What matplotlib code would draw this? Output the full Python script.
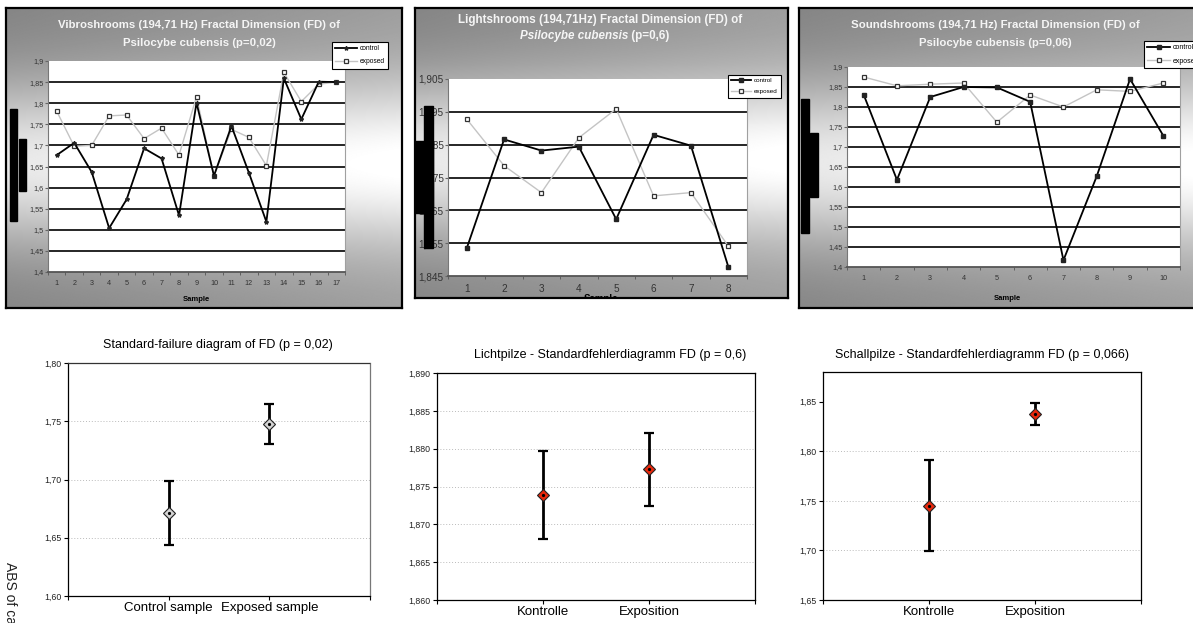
import numpy as np
import matplotlib
matplotlib.use("Agg")
import matplotlib.pyplot as plt
from matplotlib.patches import Rectangle
from matplotlib.ticker import FixedLocator, FuncFormatter

W, H = 1193, 623

# top row: fractal dimension per sample
vibro_samples = list(range(1, 18))
vibro_control = [1.677, 1.706, 1.637, 1.504, 1.572, 1.693, 1.669, 1.534, 1.801,
                 1.628, 1.746, 1.635, 1.519, 1.859, 1.762, 1.851, 1.850]
vibro_exposed = [1.781, 1.698, 1.700, 1.770, 1.772, 1.716, 1.741, 1.677, 1.815,
                 1.628, 1.738, 1.719, 1.652, 1.873, 1.804, 1.845, 1.850]

light_samples = list(range(1, 9))
light_control = [1.8534, 1.8866, 1.8832, 1.8844, 1.8623, 1.8880, 1.8847, 1.8478]
light_exposed = [1.8928, 1.8786, 1.8704, 1.8871, 1.8959, 1.8694, 1.8704, 1.8541]

sound_samples = list(range(1, 11))
sound_control = [1.831, 1.618, 1.825, 1.850, 1.849, 1.813, 1.417, 1.627, 1.870, 1.728]
sound_exposed = [1.875, 1.853, 1.857, 1.860, 1.762, 1.830, 1.800, 1.843, 1.839, 1.860]

# bottom row: mean and standard error range
vibro_labels = ["Control sample", "Exposed sample"]
vibro_mean = [1.671, 1.7475]
vibro_low = [1.644, 1.7306]
vibro_high = [1.699, 1.7647]

light_labels = ["Kontrolle", "Exposition"]
light_mean = [1.8739, 1.8773]
light_low = [1.8681, 1.8724]
light_high = [1.8797, 1.8821]

sound_labels = ["Kontrolle", "Exposition"]
sound_mean = [1.7453, 1.8378]
sound_low = [1.699, 1.8267]
sound_high = [1.7912, 1.8490]

NARROW = ["Liberation Sans Narrow", "Liberation Sans", "DejaVu Sans"]
ARIAL = ["Liberation Sans", "DejaVu Sans"]


def box(x0, y0, x1, y1):
    """pixel box (top-left origin) -> figure fraction rect"""
    return [x0 / W, 1 - y1 / H, (x1 - x0) / W, (y1 - y0) / H]


def fx(x):
    return x / W


def fy(y):
    return 1 - y / H


fig = plt.figure(figsize=(W / 100, H / 100), dpi=100)
fig.patch.set_facecolor("white")

# gray excel-style background
t = np.linspace(0, 1, 300)[:, None]
s = np.linspace(0, 1, 300)[None, :]
shade = 0.54 + 0.40 * np.exp(-((t - 0.52) / 0.28) ** 2) + 0.10 * (s - 0.3)
shade = np.clip(shade, 0, 1)


def excel_panel(frame, area, samples, control, exposed, ylim, yticks, fmt,
                tick_fs, ctrl_marker, legend_at, legend_fs):
    fr = fig.add_axes(box(*frame))
    fr.imshow(shade, cmap="gray", vmin=0, vmax=1, extent=[0, 1, 0, 1],
              aspect="auto", interpolation="bilinear")
    fr.set_xticks([])
    fr.set_yticks([])
    for sp in fr.spines.values():
        sp.set_color("black")
        sp.set_linewidth(1.6)

    ax = fig.add_axes(box(*area))
    ax.set_facecolor("white")
    for y in yticks[1:-1]:
        ax.axhline(y, color="#151515", lw=1.3, zorder=1)
    ax.plot(samples, control, color="black", lw=1.3, marker=ctrl_marker,
            ms=3, mfc="#222222", mec="#222222", zorder=3, label="control")
    ax.plot(samples, exposed, color="#c4c4c4", lw=1.0, marker="s", ms=3.5,
            mfc="white", mec="#333333", mew=0.9, zorder=2, label="exposed")
    ax.set_xlim(0.5, len(samples) + 0.5)
    ax.set_ylim(*ylim)
    ax.yaxis.set_major_locator(FixedLocator(yticks))
    ax.yaxis.set_major_formatter(FuncFormatter(lambda v, p: (fmt % v).replace(".", ",")))
    ax.set_xticks(samples)
    ax.set_xticks(np.arange(0.5, len(samples) + 1, 1.0), minor=True)
    ax.tick_params(axis="x", which="major", length=0, pad=6, labelsize=tick_fs,
                   labelcolor="#333333")
    ax.tick_params(axis="x", which="minor", length=2, color="#555555")
    ax.tick_params(axis="y", length=2, color="#666666", pad=1, labelsize=tick_fs,
                   labelcolor="#333333")
    for lab in ax.get_xticklabels() + ax.get_yticklabels():
        lab.set_family(NARROW)
    ax.spines["top"].set_visible(False)
    ax.spines["left"].set_color("#777777")
    ax.spines["bottom"].set_color("#555555")
    ax.spines["bottom"].set_linewidth(1.3)
    ax.spines["right"].set_color("#a0a0a0")
    leg = ax.legend(loc="upper left", bbox_to_anchor=(fx(legend_at[0]), fy(legend_at[1])),
                    bbox_transform=fig.transFigure, frameon=True,
                    fancybox=False, edgecolor="black", framealpha=1, borderpad=0.5,
                    borderaxespad=0, handlelength=3.2, handletextpad=0.4,
                    labelspacing=0.9, prop={"family": NARROW, "size": legend_fs})
    leg.get_frame().set_linewidth(0.8)
    return fr, ax


# ---- panel 1: vibroshrooms
fr1, ax1 = excel_panel((6, 8, 402, 308), (48, 61, 345, 272), vibro_samples,
                       vibro_control, vibro_exposed, (1.4, 1.9),
                       np.round(np.arange(1.4, 1.9001, 0.05), 2), "%g", 5.2, "*",
                       (332, 42), 4.8)
fig.text(fx(199), fy(25), "Vibroshrooms (194,71 Hz) Fractal Dimension (FD) of",
         ha="center", va="center", color="#f5f5f5", fontsize=8.2, weight="bold",
         family=NARROW)
fig.text(fx(199), fy(43), "Psilocybe cubensis (p=0,02)", ha="center", va="center",
         color="#f5f5f5", fontsize=8.2, weight="bold", family=NARROW)
fr1.text(0.48, 0.027, "Sample", transform=fr1.transAxes, ha="center", va="center",
         fontsize=5.5, weight="bold", family=NARROW)

# ---- panel 2: lightshrooms
fr2, ax2 = excel_panel((415, 8, 788, 298), (448, 79, 747, 276), light_samples,
                       light_control, light_exposed, (1.845, 1.905),
                       np.round(np.arange(1.845, 1.9051, 0.01), 3), "%.3f", 7.2, "s",
                       (728, 75), 4.5)
fig.text(fx(600), fy(20), "Lightshrooms (194,71Hz) Fractal Dimension (FD) of",
         ha="center", va="center", color="#f5f5f5", fontsize=8.4, weight="bold",
         family=NARROW)
fig.text(fx(628), fy(36), "Psilocybe cubensis", ha="right", va="center",
         color="#f5f5f5", fontsize=8.4, weight="bold", style="italic", family=NARROW)
fig.text(fx(628), fy(36), " (p=0,6)", ha="left", va="center",
         color="#f5f5f5", fontsize=8.4, weight="bold", family=NARROW)
fr2.text(0.5, -0.005, "Sample", transform=fr2.transAxes, ha="center", va="center",
         fontsize=7, weight="bold", family=NARROW, clip_on=True)

# ---- panel 3: soundshrooms
fr3, ax3 = excel_panel((799, 8, 1205, 308), (847, 67, 1180, 267), sound_samples,
                       sound_control, sound_exposed, (1.4, 1.9),
                       np.round(np.arange(1.4, 1.9001, 0.05), 2), "%g", 5.2, "s",
                       (1144, 41), 5.0)
fig.text(fx(995), fy(25), "Soundshrooms (194,71 Hz) Fractal Dimension (FD) of",
         ha="center", va="center", color="#f5f5f5", fontsize=8.2, weight="bold",
         family=NARROW)
fig.text(fx(995), fy(43), "Psilocybe cubensis (p=0,06)", ha="center", va="center",
         color="#f5f5f5", fontsize=8.2, weight="bold", family=NARROW)
fig.text(fx(1007), fy(298), "Sample", ha="center", va="center", fontsize=5.5,
         weight="bold", family=NARROW)

# black bars over the left margins
for x0, y0, x1, y1 in [(10, 109, 17, 221), (19, 139, 26, 191),
                       (424, 106, 433, 248), (415, 141, 433, 213),
                       (801, 99, 809, 233), (810, 133, 818, 197)]:
    fig.patches.append(Rectangle((fx(x0), fy(y1)), (x1 - x0) / W, (y1 - y0) / H,
                                 transform=fig.transFigure, color="black", zorder=10))


def se_panel(area, labels, mean, low, high, ylim, yticks, fmt, title, title_xy,
             face, gray_right=False):
    ax = fig.add_axes(box(*area))
    for y in yticks[1:-1]:
        ax.axhline(y, color="#bbbbbb", lw=0.7, ls=(0, (1, 2)), zorder=1)
    pos = np.arange(1, len(labels) + 1)
    m = np.array(mean)
    err = [m - np.array(low), np.array(high) - m]
    ax.errorbar(pos, m, yerr=err, fmt="none", ecolor="black", elinewidth=2.0,
                capsize=3.5, capthick=1.6, zorder=3)
    ax.plot(pos, m, ls="none", marker="D", ms=6, mfc=face, mec="#222222",
            mew=0.8, zorder=4)
    ax.plot(pos, m, ls="none", marker="o", ms=1.3, color="black", zorder=5)
    ax.set_xlim(0, len(labels) + 1)
    ax.set_ylim(*ylim)
    ax.set_xticks(np.arange(0, len(labels) + 2))
    ax.set_xticklabels([""] + labels + [""], fontsize=9.5, family=ARIAL)
    ax.yaxis.set_major_locator(FixedLocator(yticks))
    ax.yaxis.set_major_formatter(FuncFormatter(lambda v, p: (fmt % v).replace(".", ",")))
    for lab in ax.get_yticklabels():
        lab.set_family(ARIAL)
    ax.tick_params(axis="y", length=3, labelsize=6.3, pad=2, labelcolor="#222222")
    ax.tick_params(axis="x", length=3, pad=1)
    for sp in ax.spines.values():
        sp.set_linewidth(0.9)
    if gray_right:
        ax.spines["right"].set_color("#777777")
        ax.spines["top"].set_linestyle((0, (1, 1)))
        ax.spines["top"].set_color("#333333")
    fig.text(fx(title_xy[0]), fy(title_xy[1]), title, ha="center", va="center",
             fontsize=9, family=ARIAL)
    return ax


se_panel((68, 363, 370, 596), vibro_labels, vibro_mean, vibro_low, vibro_high,
         (1.60, 1.80), np.round(np.arange(1.60, 1.8001, 0.05), 2), "%.2f",
         "Standard-failure diagram of FD (p = 0,02)", (218, 345), "#d4d4d4",
         gray_right=True)
se_panel((437, 373, 755, 600), light_labels, light_mean, light_low, light_high,
         (1.860, 1.890), np.round(np.arange(1.860, 1.8901, 0.005), 3), "%.3f",
         "Lichtpilze - Standardfehlerdiagramm FD (p = 0,6)", (610, 355), "#e8280c")
se_panel((823, 372, 1141, 600), sound_labels, sound_mean, sound_low, sound_high,
         (1.65, 1.88), np.round(np.arange(1.65, 1.8501, 0.05), 2), "%.2f",
         "Schallpilze - Standardfehlerdiagramm FD (p = 0,066)", (982, 355), "#e8280c")

# axis label clipped at the lower edge, as in the source picture
fig.text(fx(10), fy(562), "ABS of cases", rotation=-90, ha="center", va="top",
         fontsize=10, family=ARIAL, color="#222222")

fig.savefig("out.png", dpi=100)
